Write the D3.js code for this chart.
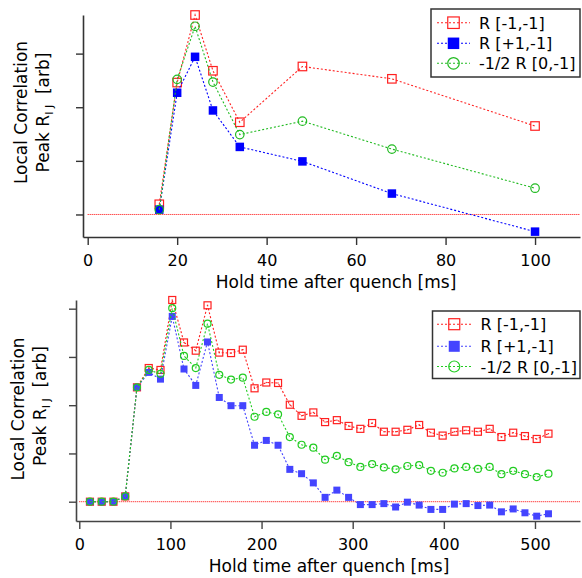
<!DOCTYPE html>
<html><head><meta charset="utf-8">
<script src="https://cdn.jsdelivr.net/npm/d3@7"></script>
<style>
body{margin:0;background:#fff;}
svg{display:block;font-family:"DejaVu Sans",sans-serif;}
</style></head><body>
<svg id="c" width="582" height="578"></svg>
<script>
// ---------- data ----------
const topTime = [16, 20, 24, 28, 34, 48, 68, 100];
const topRm1m1 = [0.19, 2.46, 3.72, 2.68, 1.72, 2.76, 2.53, 1.65];
const topRp1m1 = [0.09, 2.27, 2.94, 1.94, 1.26, 0.99, 0.39, -0.32];
const topRhalf0m1 = [0.09, 2.52, 3.51, 2.47, 1.49, 1.74, 1.22, 0.49];

const botTime = [11.7, 24.6, 37.5, 50.4, 63.3, 76.2, 89.1, 102.0, 114.9, 127.8,
  140.7, 153.6, 166.5, 179.4, 192.3, 205.2, 218.1, 231.0, 243.9, 256.8,
  269.7, 282.6, 295.5, 308.4, 321.3, 334.2, 347.1, 360.0, 372.9, 385.8,
  398.7, 411.6, 424.5, 437.4, 450.3, 463.2, 476.1, 489.0, 501.9, 514.8];
const botRm1m1 = [0.0, 0.0, 0.0, 0.11, 2.37, 2.77, 2.73, 4.18, 3.30, 3.13,
  4.07, 3.09, 3.08, 3.15, 2.35, 2.47, 2.46, 2.01, 1.78, 1.85,
  1.65, 1.69, 1.57, 1.51, 1.63, 1.45, 1.45, 1.49, 1.59, 1.43,
  1.37, 1.45, 1.48, 1.45, 1.51, 1.34, 1.43, 1.36, 1.30, 1.41];
const botRp1m1 = [0.0, 0.0, 0.0, 0.11, 2.37, 2.68, 2.54, 3.84, 2.75, 2.41,
  3.31, 2.16, 1.99, 1.99, 1.17, 1.27, 1.17, 0.67, 0.58, 0.39,
  0.09, 0.24, 0.09, -0.06, -0.06, -0.04, -0.11, -0.01, -0.07, -0.16,
  -0.16, -0.05, -0.04, -0.08, -0.07, -0.21, -0.15, -0.23, -0.30, -0.25];
const botRhalf0m1 = [0.0, 0.0, 0.0, 0.11, 2.37, 2.73, 2.65, 4.01, 3.02, 2.77,
  3.69, 2.63, 2.53, 2.57, 1.76, 1.86, 1.81, 1.34, 1.18, 1.12,
  0.87, 0.95, 0.82, 0.72, 0.78, 0.71, 0.67, 0.74, 0.76, 0.64,
  0.60, 0.69, 0.72, 0.68, 0.72, 0.57, 0.64, 0.57, 0.51, 0.58];

const seriesNames = ["R [-1,-1]", "R [+1,-1]", "-1/2 R [0,-1]"];
const topXTicks = [0, 20, 40, 60, 80, 100];
const topYTicks = [0, 1, 2, 3];
const botXTicks = [0, 100, 200, 300, 400, 500];
const botYTicks = [0, 1, 2, 3, 4];
const xTitle = "Hold time after quench [ms]";

// ---------- drawing ----------
const svg = d3.select("#c");

function panel(cfg) {
  const g = svg.append("g");
  const x = d3.scaleLinear().domain(cfg.xDomain).range(cfg.xRange);
  const y = d3.scaleLinear().domain(cfg.yDomain).range(cfg.yRange);

  // axes
  const ax = g.append("g").attr("transform", `translate(0,${cfg.yRange[0]})`)
    .call(d3.axisBottom(x).tickValues(cfg.xTicks).tickSize(8).tickSizeOuter(0).tickPadding(cfg.xPad));
  const ay = g.append("g").attr("transform", `translate(${cfg.xRange[0]},0)`)
    .call(d3.axisLeft(y).tickValues(cfg.yTicks).tickSize(7).tickSizeOuter(0).tickFormat(""));
  [ax, ay].forEach(a => {
    a.select(".domain").attr("stroke", cfg.axisColor).attr("stroke-width", 1.6);
    a.selectAll(".tick line").attr("stroke", cfg.axisColor).attr("stroke-width", 1.4);
    a.selectAll(".tick text").attr("fill", "#000").style("font-size", "16px")
      .style("font-family", "DejaVu Sans");
  });

  // zero line
  g.append("line").attr("x1", x(0)).attr("x2", cfg.xRange[1])
    .attr("y1", y(0)).attr("y2", y(0))
    .attr("stroke", "#ff0000").attr("stroke-width", 1).attr("stroke-dasharray", "1,1");

  const line = d3.line().x(d => x(d[0])).y(d => y(d[1]));
  const ser = [
    {vals: cfg.s[0], color: cfg.colors[0], type: "osq"},
    {vals: cfg.s[1], color: cfg.colors[1], type: "fsq"},
    {vals: cfg.s[2], color: cfg.colors[2], type: "ocirc"}
  ];
  ser.forEach(s => {
    const pts = cfg.t.map((t, i) => [t, s.vals[i]]);
    g.append("path").attr("d", line(pts)).attr("fill", "none")
      .attr("stroke", s.color).attr("stroke-width", 1.1).attr("stroke-dasharray", "2,2");
    pts.forEach(p => drawMarker(g, s.type, x(p[0]), y(p[1]), s.color, cfg.msize, cfg.dot));
  });

  // legend
  const L = cfg.legend;
  g.append("rect").attr("x", L.x).attr("y", L.y).attr("width", L.w).attr("height", L.h)
    .attr("fill", "#fff").attr("stroke", "#333").attr("stroke-width", 1.5);
  ser.forEach((s, i) => {
    const cy = L.rows[i];
    g.append("line").attr("x1", L.lx1).attr("x2", L.lx2).attr("y1", cy).attr("y2", cy)
      .attr("stroke", s.color).attr("stroke-width", 1.1).attr("stroke-dasharray", "2,2");
    drawMarker(g, s.type, (L.lx1 + L.lx2) / 2, cy, s.color, cfg.lsize, false);
    g.append("text").attr("x", L.tx).attr("y", cy + 6).text(seriesNames[i])
      .style("font-size", "16px");
  });

  // x title
  g.append("text").attr("x", cfg.xt[0]).attr("y", cfg.xt[1]).attr("text-anchor", "middle")
    .style("font-size", "17px").text(xTitle);
  // y title
  g.append("text").attr("transform", `translate(${cfg.yt1[0]},${cfg.yt1[1]}) rotate(-90)`)
    .attr("text-anchor", "middle").style("font-size", "17px").text("Local Correlation");
  const t2 = g.append("text").attr("transform", `translate(${cfg.yt2[0]},${cfg.yt2[1]}) rotate(-90)`)
    .attr("text-anchor", "middle").style("font-size", "17px");
  t2.append("tspan").text("Peak R");
  t2.append("tspan").attr("dy", 4).style("font-size", "11px").text("I J");
  t2.append("tspan").attr("dy", -4).text("\u00a0\u00a0[arb]");
}

function drawMarker(g, type, cx, cy, color, size, dot) {
  if (type === "osq") {
    g.append("rect").attr("x", cx - size / 2).attr("y", cy - size / 2)
      .attr("width", size).attr("height", size).attr("fill", "none")
      .attr("stroke", color).attr("stroke-width", 1.2);
    if (dot) g.append("rect").attr("x", cx - 0.6).attr("y", cy - 0.6).attr("width", 1.2).attr("height", 1.2)
      .attr("fill", color);
  } else if (type === "fsq") {
    g.append("rect").attr("x", cx - size / 2).attr("y", cy - size / 2)
      .attr("width", size).attr("height", size).attr("fill", color);
  } else {
    g.append("circle").attr("cx", cx).attr("cy", cy).attr("r", size / 2)
      .attr("fill", "none").attr("stroke", color).attr("stroke-width", 1.2);
  }
}

panel({
  xDomain: [-1.05, 110.05], xRange: [83, 580],
  yDomain: [-0.42, 3.72], yRange: [237, 15],
  xTicks: topXTicks, yTicks: topYTicks, xPad: 10,
  axisColor: "#333",
  t: topTime, s: [topRm1m1, topRp1m1, topRhalf0m1],
  colors: ["#ff2020", "#0000ff", "#22bb22"],
  msize: 8.5, lsize: 11.5, dot: false,
  legend: {x: 431, y: 9, w: 149, h: 68, rows: [22.7, 43.3, 63.3], lx1: 437, lx2: 470, tx: 479},
  xt: [336, 288], yt1: [27, 112.5], yt2: [49, 112.5]
});

panel({
  xDomain: [-3.6, 549.4], xRange: [76, 580],
  yDomain: [-0.40, 4.18], yRange: [521, 300],
  xTicks: botXTicks, yTicks: botYTicks, xPad: 9.6,
  axisColor: "#444",
  t: botTime, s: [botRm1m1, botRp1m1, botRhalf0m1],
  colors: ["#ff2020", "#4444ff", "#22cc22"],
  msize: 7, lsize: 11, dot: true,
  legend: {x: 432.5, y: 311, w: 147.5, h: 67.5, rows: [324.2, 346.3, 366.5], lx1: 437, lx2: 471.5, tx: 480.5},
  xt: [329, 572], yt1: [24, 409], yt2: [46, 406]
});
</script>
</body></html>
